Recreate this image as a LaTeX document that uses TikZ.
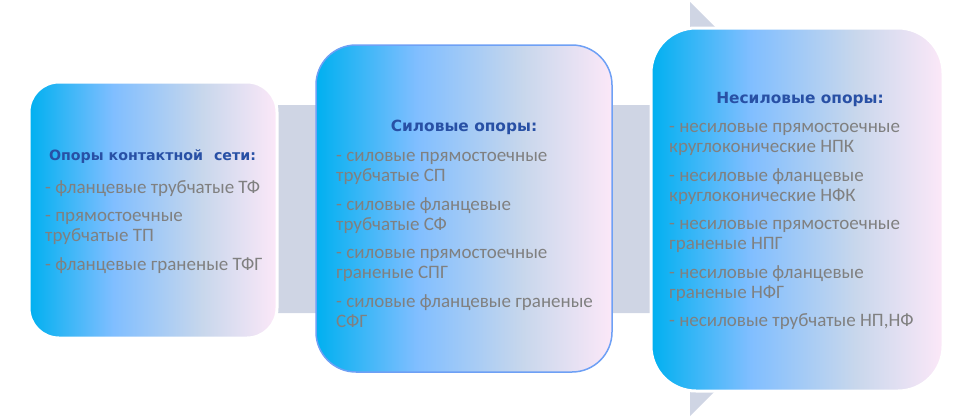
\documentclass[tikz,border=0pt]{standalone}
\usepackage{fontspec}
\setmainfont{Carlito}
\newfontfamily\titlefont{DejaVu Sans}
\definecolor{cA}{RGB}{0,176,240}
\definecolor{cB}{RGB}{128,190,255}
\definecolor{cC}{RGB}{200,215,236}
\definecolor{cD}{RGB}{252,232,248}
\definecolor{bandcol}{RGB}{207,213,228}
\definecolor{titlecol}{RGB}{40,80,165}
\definecolor{bodycol}{RGB}{128,128,128}
\definecolor{edgeblue}{RGB}{110,160,245}
\pgfdeclarehorizontalshading{boxgrad}{100bp}{color(0bp)=(cA); color(25bp)=(cA); color(42bp)=(cB); color(60bp)=(cC); color(75bp)=(cD); color(100bp)=(cD)}
\tikzset{
  box/.style={shading=boxgrad, draw=white, line width=3pt, inner sep=0pt},
  boxtitle/.style={anchor=base, inner sep=0pt, text=titlecol, font=\titlefont\bfseries\fontsize{15.4}{18}\selectfont},
  boxbody/.style={anchor=base west, inner sep=0pt, text=bodycol, font=\fontsize{19}{20}\selectfont}
}
\begin{document}
\begin{tikzpicture}[x=1pt,y=-1pt]
\useasboundingbox (0,0) rectangle (971,418);
% background arrow
\fill[bandcol] (150,105) -- (690,105) -- (690,2) -- (897,209) -- (690,416) -- (690,313) -- (150,313) -- cycle;
% boxes
\node[box, rounded corners=30pt, minimum width=248pt, minimum height=256pt] (b1) at (153,210) {};
\node[box, draw=edgeblue, line width=1.5pt, rounded corners=40pt, minimum width=296pt, minimum height=327pt] (b2) at (464,208.5) {};
\node[box, rounded corners=45pt, minimum width=292pt, minimum height=363pt] (b3) at (797,209.5) {};
% titles
\node[boxtitle, font=\titlefont\bfseries\fontsize{14.2}{17}\selectfont] (t1) at (152.5,160.5) {Опоры контактной\hspace{6pt} сети:};
\node[boxtitle] (t2) at (464,131.5) {Силовые опоры:};
\node[boxtitle] (t3) at (800,103) {Несиловые опоры:};
% bodies
\node[boxbody] (l1) at (45,193) {\begin{tabular}[t]{@{}l@{}}- фланцевые трубчатые ТФ\\[8.5pt]- прямостоечные\\трубчатые ТП\\[8.5pt]- фланцевые граненые ТФГ\end{tabular}};
\node[boxbody] (l2) at (336,161.5) {\begin{tabular}[t]{@{}l@{}}- силовые прямостоечные\\трубчатые СП\\[8.5pt]- силовые фланцевые\\трубчатые СФ\\[8.5pt]- силовые прямостоечные\\граненые СПГ\\[8.5pt]- силовые фланцевые граненые\\СФГ\end{tabular}};
\node[boxbody] (l3) at (669,132.5) {\begin{tabular}[t]{@{}l@{}}- несиловые прямостоечные\\круглоконические НПК\\[8.5pt]- несиловые фланцевые\\круглоконические НФК\\[8.5pt]- несиловые прямостоечные\\граненые НПГ\\[8.5pt]- несиловые фланцевые\\граненые НФГ\\[8.5pt]- несиловые трубчатые НП,НФ\end{tabular}};
\end{tikzpicture}
\end{document}
